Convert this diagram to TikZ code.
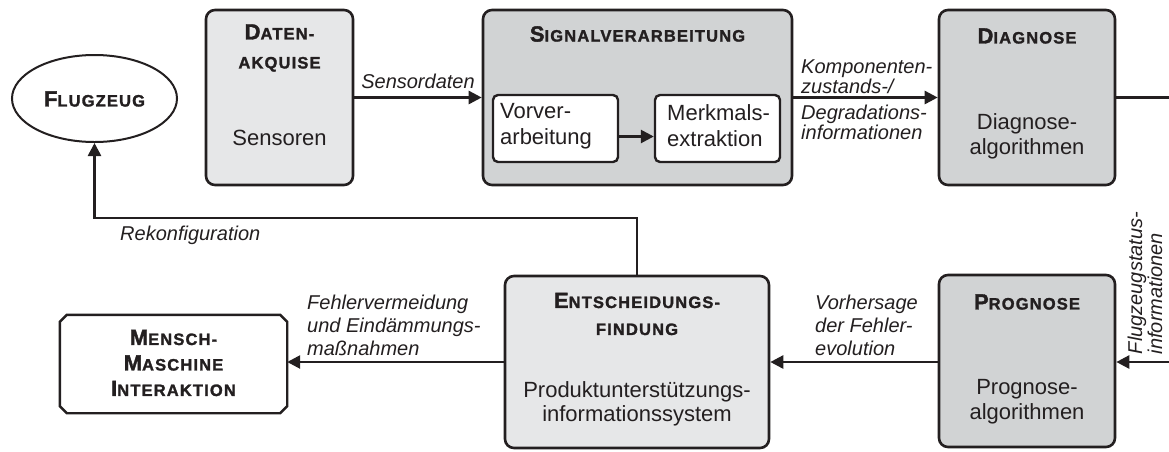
\documentclass[tikz,border=0pt]{standalone}
\usepackage{fontspec}
\setmainfont{Liberation Sans}
\newfontfamily\titlefont[LetterSpace=7, FakeBold=1.6]{Liberation Sans Bold}
\usetikzlibrary{arrows.meta,shapes.geometric}

\definecolor{ln}{HTML}{231F20}
\definecolor{lgray}{HTML}{E6E7E8}
\definecolor{dgray}{HTML}{D1D3D4}

% title in pseudo small caps: large initial, smaller capitals after it
\newcommand{\tcap}[2]{{\titlefont\fontsize{22}{\baselineskip}\selectfont #1\fontsize{16.5}{\baselineskip}\selectfont #2}}
\newcommand{\tsm}[1]{{\titlefont\fontsize{16.5}{\baselineskip}\selectfont #1}}

\tikzset{
  box/.style={draw=ln, line width=2.6pt, rounded corners=9pt, inner sep=0pt},
  lightbox/.style={box, fill=lgray},
  darkbox/.style={box, fill=dgray},
  inbox/.style={draw=ln, fill=white, line width=2.4pt, rounded corners=5pt, inner sep=0pt},
  conn/.style={draw=ln, line width=2.6pt},
  arr/.style={conn, -{Triangle[length=13pt,width=13pt]}},
  body/.style={font=\fontsize{22}{25}\selectfont, align=center, inner sep=0pt, text=ln},
  title/.style={align=center, inner sep=0pt, text=ln, font=\fontsize{16.5}{26}\selectfont},
  lbl/.style={font=\itshape\fontsize{20}{18.5}\selectfont, align=left, inner sep=0pt, text=ln},
  lblwide/.style={font=\itshape\fontsize{20}{23}\selectfont, align=left, inner sep=0pt, text=ln},
}

\begin{document}
\begin{tikzpicture}[x=1pt, y=-1pt]
\useasboundingbox (0,0) rectangle (1169,451);

% aircraft
\node[ellipse, draw=ln, line width=2pt, fill=white, minimum width=165pt, minimum height=87pt, inner sep=0pt]
  (flug) at (94.5,98.5) {};
\node[title] (flug-t) at (94.5,99) {\tcap{F}{LUGZEUG}};

% data acquisition
\node[lightbox, minimum width=147pt, minimum height=175pt] (daq) at (279.5,97.5) {};
\node[title, font=\fontsize{16.5}{29}\selectfont] (daq-t) at (279.5,48) {\tcap{D}{ATEN-}\\\tsm{AKQUISE}};
\node[body] (daq-b) at (279.5,138) {Sensoren};

% signal processing
\node[darkbox, minimum width=309pt, minimum height=175pt] (sig) at (637.5,97.5) {};
\node[title] (sig-t) at (637.5,34) {\tcap{S}{IGNALVERARBEITUNG}};
\node[inbox, minimum width=125pt, minimum height=67pt] (vor) at (555.5,128.5) {};
\node[body, align=left, anchor=west, font=\fontsize{22}{26}\selectfont] (vor-b) at (500,126) {Vorver-\\arbeitung};
\node[inbox, minimum width=125pt, minimum height=67pt] (merk) at (717.5,128.5) {};
\node[body, align=left, anchor=west, font=\fontsize{22}{26}\selectfont] (merk-b) at (667,126) {Merkmals-\\extraktion};

% diagnosis
\node[darkbox, minimum width=176pt, minimum height=175pt] (diag) at (1027,97.5) {};
\node[title] (diag-t) at (1027,36) {\tcap{D}{IAGNOSE}};
\node[body] (diag-b) at (1027,136) {Diagnose-\\algorithmen};

% prognosis
\node[darkbox, minimum width=176pt, minimum height=172pt] (prog) at (1027,361) {};
\node[title] (prog-t) at (1027,302) {\tcap{P}{ROGNOSE}};
\node[body] (prog-b) at (1027,402) {Prognose-\\algorithmen};

% decision making
\node[lightbox, minimum width=264pt, minimum height=172pt] (ent) at (637,362) {};
\node[title, font=\fontsize{16.5}{27}\selectfont] (ent-t) at (637,314) {\tcap{E}{NTSCHEIDUNGS-}\\\tsm{FINDUNG}};
\node[body, font=\fontsize{22}{24}\selectfont] (ent-b) at (637,404) {Produktunterstützungs-\\informationssystem};

% human-machine interaction: box with cut corners
\node[minimum width=227pt, minimum height=98pt, inner sep=0pt] (mmi) at (173.5,364) {};
\draw[draw=ln, fill=white, line width=2.4pt]
  ([xshift=7pt]mmi.north west) -- ([xshift=-7pt]mmi.north east) -- ([yshift=-7pt]mmi.north east)
  -- ([yshift=7pt]mmi.south east) -- ([xshift=-7pt]mmi.south east) -- ([xshift=7pt]mmi.south west)
  -- ([yshift=7pt]mmi.south west) -- ([yshift=-7pt]mmi.north west) -- cycle;
\node[title, font=\fontsize{16.5}{25.5}\selectfont] (mmi-t) at (173.5,363) {\tcap{M}{ENSCH-}\\\tcap{M}{ASCHINE}\\\tcap{I}{NTERAKTION}};

% free ends at the right border
\coordinate (outR) at (1169,97.5);
\coordinate (inR) at (1169,362);
\coordinate (recA) at (637,218);
\coordinate (recB) at (94.5,218);

% connectors
\draw[arr] (daq.east) -- (sig.west);
\draw[arr] ([yshift=-8pt]vor.east) -- ([yshift=-8pt]merk.west);
\draw[arr] (sig.east) -- (diag.west);
\draw[conn] (diag.east) -- (outR);
\draw[arr] (inR) -- (prog.east |- inR);
\draw[arr] (prog.west |- inR) -- (ent.east |- inR);
\draw[arr] (ent.west |- inR) -- (mmi.east |- inR);
\draw[arr] (ent.north) -- (recA) -- (recB) -- (flug.south);

% labels
\node[lbl, anchor=south west] (l-komp1) at (801,94) {Komponenten-\\zustands-/};
\node[lbl, anchor=north west] (l-komp2) at (801,105) {Degradations-\\informationen};
\node[lbl, anchor=center] (l-sens) at (418,81) {Sensordaten};
\node[lbl, anchor=west] (l-rek) at (120,235) {Rekonfiguration};
\node[lblwide, anchor=west] (l-fehl) at (307,325) {Fehlervermeidung\\und Eindämmungs-\\maßnahmen};
\node[lblwide, anchor=west] (l-vorh) at (815,325) {Vorhersage\\der Fehler-\\evolution};
\node[lbl, rotate=90, font=\itshape\fontsize{20}{20}\selectfont] (l-flug) at (1145,283) {Flugzeugstatus-\\informationen};
\end{tikzpicture}
\end{document}
